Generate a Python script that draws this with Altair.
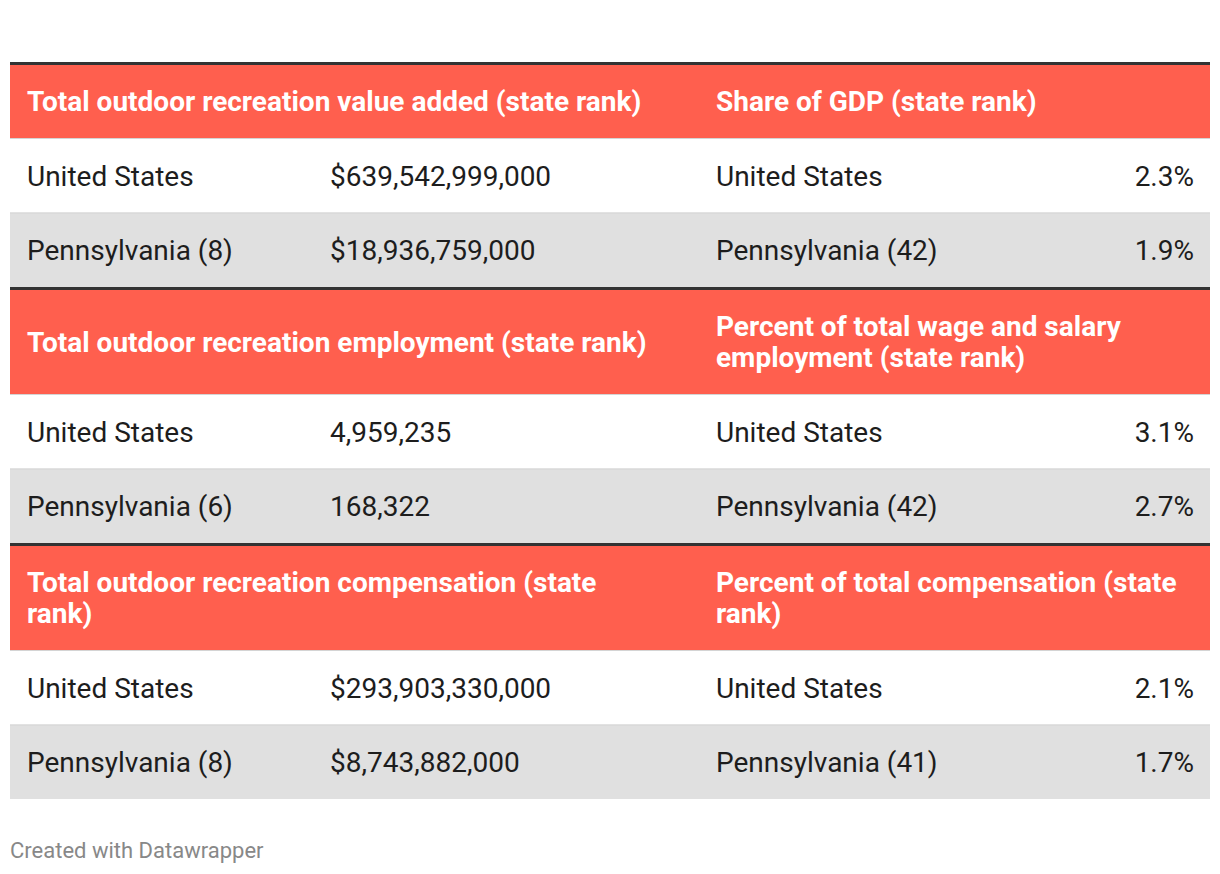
import altair as alt
import pandas as pd

# ---------------- data ----------------
header_left = [
    "Total outdoor recreation value added (state rank)",
    "Total outdoor recreation employment (state rank)",
    "Total outdoor recreation compensation (state\nrank)",
]
header_right = [
    "Share of GDP (state rank)",
    "Percent of total wage and salary\nemployment (state rank)",
    "Percent of total compensation (state\nrank)",
]
us_left_label = ["United States", "United States", "United States"]
pa_left_label = ["Pennsylvania (8)", "Pennsylvania (6)", "Pennsylvania (8)"]
us_left_value = ["$639,542,999,000", "4,959,235", "$293,903,330,000"]
pa_left_value = ["$18,936,759,000", "168,322", "$8,743,882,000"]
us_right_label = ["United States", "United States", "United States"]
pa_right_label = ["Pennsylvania (42)", "Pennsylvania (42)", "Pennsylvania (41)"]
us_right_value = ["2.3%", "3.1%", "2.1%"]
pa_right_value = ["1.9%", "2.7%", "1.7%"]
footer = "Created with Datawrapper"

# ---------------- layout / style ----------------
TOP = 62
THICK = 3
HEADER_H = [73, 104, 104]
ROW_H = 74.5
X0, X1 = 10, 1210
COL_X = [27, 330, 716, 1194]
RED = "#ff5f4e"
DARK = "#333333"
GRAY_ROW = "#e0e0e0"
SEP = "#d4d4d4"
TXT = "#1d1d1d"
FONT = "Roboto"
FS = 28
LH = 31

rects, seps = [], []
hdr_txt, left_txt, right_txt = [], [], []
y = TOP
for i in range(3):
    rects.append(dict(x=X0, x2=X1, y=y, y2=y + THICK, fill=DARK))
    y += THICK
    hy0, hy1 = y, y + HEADER_H[i]
    rects.append(dict(x=X0, x2=X1, y=hy0, y2=hy1, fill=RED))
    for t, cx in ((header_left[i], COL_X[0]), (header_right[i], COL_X[2])):
        n = t.count("\n") + 1
        hdr_txt.append(dict(x=cx, y=(hy0 + hy1) / 2 + 1.5 - (n - 1) / 2 * LH, t=t))
    y = hy1
    rows = [
        (us_left_label[i], us_left_value[i], us_right_label[i], us_right_value[i], "#ffffff"),
        (pa_left_label[i], pa_left_value[i], pa_right_label[i], pa_right_value[i], GRAY_ROW),
    ]
    for a, b, c, d, fill in rows:
        ry0, ry1 = y, y + ROW_H
        rects.append(dict(x=X0, x2=X1, y=ry0, y2=ry1, fill=fill))
        seps.append(dict(x=X0, x2=X1, y=ry0 + 0.5))
        cy = (ry0 + ry1) / 2 + 2.5
        left_txt += [dict(x=COL_X[0], y=cy, t=a), dict(x=COL_X[1], y=cy, t=b),
                     dict(x=COL_X[2], y=cy, t=c)]
        right_txt.append(dict(x=COL_X[3], y=cy, t=d))
        y = ry1

W, H = 1204, 858
xs = alt.Scale(domain=[8, 8 + W], nice=False, zero=False)
ys = alt.Scale(domain=[8, 8 + H], nice=False, zero=False, reverse=True)

def X(f="x"):
    return alt.X(f"{f}:Q", scale=xs, axis=None)

def Y(f="y"):
    return alt.Y(f"{f}:Q", scale=ys, axis=None)

rect_layer = alt.Chart(pd.DataFrame(rects)).mark_rect(strokeWidth=0).encode(
    x=X(), x2="x2:Q", y=Y(), y2="y2:Q", fill=alt.Fill("fill:N", scale=None)
)
sep_layer = alt.Chart(pd.DataFrame(seps)).mark_rule(color=SEP, strokeWidth=1).encode(
    x=X(), x2="x2:Q", y=Y()
)
hdr_layer = alt.Chart(pd.DataFrame(hdr_txt)).mark_text(
    align="left", baseline="middle", font=FONT, fontSize=FS, fontWeight="bold",
    color="#ffffff", lineBreak="\n", lineHeight=LH
).encode(x=X(), y=Y(), text="t:N")
left_layer = alt.Chart(pd.DataFrame(left_txt)).mark_text(
    align="left", baseline="middle", font=FONT, fontSize=FS, color=TXT
).encode(x=X(), y=Y(), text="t:N")
right_layer = alt.Chart(pd.DataFrame(right_txt)).mark_text(
    align="right", baseline="middle", font=FONT, fontSize=FS, color=TXT
).encode(x=X(), y=Y(), text="t:N")
foot_layer = alt.Chart(pd.DataFrame([dict(x=10, y=851, t=footer)])).mark_text(
    align="left", baseline="middle", font=FONT, fontSize=22, color="#888888"
).encode(x=X(), y=Y(), text="t:N")

chart = alt.layer(rect_layer, sep_layer, hdr_layer, left_layer, right_layer, foot_layer).properties(
    width=W, height=H, padding=0, background="#ffffff",
    autosize=alt.AutoSizeParams(type="none")
).configure_view(stroke=None)

chart.save("out.html", embed_options={"renderer": "svg", "actions": False})
